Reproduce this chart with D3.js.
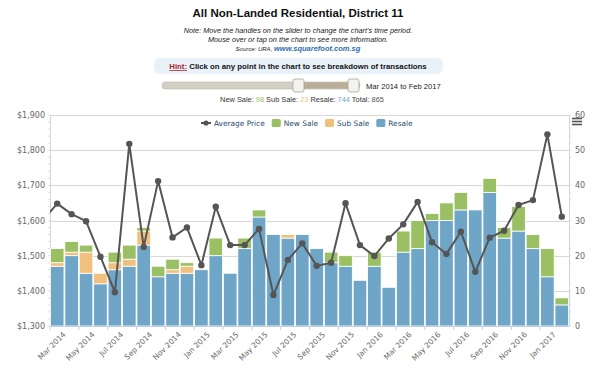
<!DOCTYPE html>
<html>
<head>
<meta charset="utf-8">
<script src="https://cdn.jsdelivr.net/npm/d3@7"></script>
<style>
  body { margin: 0; background: #fff; }
  svg { display: block; }
</style>
</head>
<body>
<div id="chart"></div>
<script>
// monthly transactions, Mar 2014 - Feb 2017
const months = ["Mar 2014", "Apr 2014", "May 2014", "Jun 2014", "Jul 2014", "Aug 2014",
  "Sep 2014", "Oct 2014", "Nov 2014", "Dec 2014", "Jan 2015", "Feb 2015",
  "Mar 2015", "Apr 2015", "May 2015", "Jun 2015", "Jul 2015", "Aug 2015",
  "Sep 2015", "Oct 2015", "Nov 2015", "Dec 2015", "Jan 2016", "Feb 2016",
  "Mar 2016", "Apr 2016", "May 2016", "Jun 2016", "Jul 2016", "Aug 2016",
  "Sep 2016", "Oct 2016", "Nov 2016", "Dec 2016", "Jan 2017", "Feb 2017"];
const resale = [17, 20, 15, 12, 16, 17, 23, 14, 15, 15, 16, 20, 15, 22, 31, 26, 25, 26,
  22, 18, 17, 13, 17, 11, 21, 22, 30, 30, 33, 33, 38, 25, 27, 22, 14, 6];
const subSale = [1, 1, 6, 3, 2, 2, 4, 0, 1, 2, 0, 0, 0, 0, 0, 0, 1, 0,
  0, 0, 0, 0, 0, 0, 0, 0, 0, 0, 0, 0, 0, 0, 0, 0, 0, 0];
const newSale = [4, 3, 2, 0, 3, 4, 1, 3, 3, 1, 0, 5, 0, 3, 2, 0, 0, 0,
  0, 3, 3, 0, 4, 0, 6, 8, 2, 5, 5, 0, 4, 3, 7, 4, 8, 2];
const avgPrice = [1648, 1618, 1598, 1497, 1396, 1818, 1525, 1712, 1552, 1580, 1473, 1639,
  1530, 1530, 1576, 1388, 1488, 1535, 1471, 1480, 1649, 1530, 1499, 1549,
  1589, 1653, 1538, 1505, 1568, 1454, 1551, 1571, 1644, 1658, 1845, 1611];
const priorPrice = 1600; // Feb 2014, just outside the selected range
const priceTicks = [1300, 1400, 1500, 1600, 1700, 1800, 1900];
const countTicks = [0, 10, 20, 30, 40, 50, 60];

const colors = { resale: "#6fa6c8", sub: "#f2c07e", new: "#9bc064", line: "#555555" };

const W = 600, H = 370;
const plot = { left: 50, right: 569, top: 115, bottom: 326 };

const svg = d3.select("#chart").append("svg")
  .attr("width", W).attr("height", H);

// ---- header ----
const sans = "'Liberation Sans', Arial, sans-serif";
svg.append("text").attr("x", 298).attr("y", 17)
  .attr("text-anchor", "middle").style("font", `bold 11.5px ${sans}`).attr("fill", "#111")
  .text("All Non-Landed Residential, District 11");

svg.append("text").attr("x", 298).attr("y", 33)
  .attr("text-anchor", "middle").style("font", `italic 7.3px ${sans}`).attr("fill", "#222")
  .text("Note: Move the handles on the slider to change the chart's time period.");
svg.append("text").attr("x", 298).attr("y", 42)
  .attr("text-anchor", "middle").style("font", `italic 7.3px ${sans}`).attr("fill", "#222")
  .text("Mouse over or tap on the chart to see more information.");

const src = svg.append("text").attr("x", 298).attr("y", 51)
  .attr("text-anchor", "middle").style("font", `italic 6px ${sans}`).attr("fill", "#222");
src.append("tspan").text("Source: URA, ");
src.append("tspan").style("font", `italic bold 7.5px ${sans}`).attr("fill", "#2f6fb3")
  .text("www.squarefoot.com.sg");

// hint box
svg.append("rect").attr("x", 154).attr("y", 58).attr("width", 289).attr("height", 16)
  .attr("rx", 6).attr("fill", "#e9f1f9");
const hint = svg.append("text").attr("x", 298).attr("y", 69)
  .attr("text-anchor", "middle").style("font", `bold 7.8px ${sans}`).attr("fill", "#111");
hint.append("tspan").attr("fill", "#b0212a").style("text-decoration", "underline").text("Hint:");
hint.append("tspan").text(" Click on any point in the chart to see breakdown of transactions");

// slider
const slider = svg.append("g");
slider.append("rect").attr("x", 162).attr("y", 82).attr("width", 198).attr("height", 7)
  .attr("rx", 3.5).attr("fill", "#d2cfc4").attr("stroke", "#b9b5a8").attr("stroke-width", 0.6);
slider.append("rect").attr("x", 299).attr("y", 82.3).attr("width", 54).attr("height", 6.4)
  .attr("fill", "#b9af98");
[293, 348].forEach(hx => {
  slider.append("rect").attr("x", hx).attr("y", 79).attr("width", 11).attr("height", 13)
    .attr("rx", 2).attr("fill", "#f3f2ec").attr("stroke", "#aaa79c").attr("stroke-width", 0.8);
});
svg.append("text").attr("x", 366).attr("y", 88.5)
  .style("font", `7.6px ${sans}`).attr("fill", "#222").text("Mar 2014 to Feb 2017");

// totals line
const totals = svg.append("text").attr("x", 302).attr("y", 101.5)
  .attr("text-anchor", "middle").style("font", `7.4px ${sans}`).attr("fill", "#333");
const sum = a => d3.sum(a);
totals.append("tspan").text("New Sale: ");
totals.append("tspan").attr("fill", colors.new).text(sum(newSale));
totals.append("tspan").text(" Sub Sale: ");
totals.append("tspan").attr("fill", colors.sub).text(sum(subSale));
totals.append("tspan").text(" Resale: ");
totals.append("tspan").attr("fill", colors.resale).text(sum(resale));
totals.append("tspan").text(" Total: ");
totals.append("tspan").attr("fill", "#555").text(sum(resale) + sum(subSale) + sum(newSale));

// ---- scales ----
const x = d3.scaleBand().domain(months).range([plot.left, plot.right])
  .paddingInner(0.06).paddingOuter(0.03);
const step = x.step();
const yCount = d3.scaleLinear().domain([0, 60]).range([plot.bottom, plot.top]);
const yPrice = d3.scaleLinear().domain([1300, 1900]).range([plot.bottom, plot.top]);

const axisFont = "'DejaVu Sans', Verdana, sans-serif";

// grid
svg.append("g").selectAll("line").data(priceTicks).join("line")
  .attr("x1", plot.left).attr("x2", plot.right)
  .attr("y1", d => Math.round(yPrice(d)) + 0.5).attr("y2", d => Math.round(yPrice(d)) + 0.5)
  .attr("stroke", "#d8d8d8").attr("stroke-width", 1);

// left axis
const leftAxis = svg.append("g").attr("transform", `translate(${plot.left},0)`)
  .call(d3.axisLeft(yPrice).tickValues(priceTicks).tickSize(0).tickPadding(5)
    .tickFormat(d => "$" + d3.format(",")(d)));
leftAxis.select(".domain").attr("stroke", "#c0d0e0").attr("stroke-width", 0.8);
leftAxis.selectAll("text").style("font", `8px ${axisFont}`).attr("fill", "#666");
leftAxis.append("g").selectAll("line").data(d3.range(1300, 1901, 20)).join("line")
  .attr("x1", 0).attr("x2", -2)
  .attr("y1", d => yPrice(d)).attr("y2", d => yPrice(d))
  .attr("stroke", "#c8d2dc").attr("stroke-width", 0.7);

// right axis
const rightAxis = svg.append("g").attr("transform", `translate(${plot.right},0)`)
  .call(d3.axisRight(yCount).tickValues(countTicks).tickSize(0).tickPadding(6));
rightAxis.select(".domain").attr("stroke", "#c0d0e0").attr("stroke-width", 0.8);
rightAxis.selectAll("text").style("font", `8px ${axisFont}`).attr("fill", "#666");
rightAxis.append("g").selectAll("line").data(d3.range(0, 61, 2)).join("line")
  .attr("x1", 0).attr("x2", 2)
  .attr("y1", d => yCount(d)).attr("y2", d => yCount(d))
  .attr("stroke", "#c8d2dc").attr("stroke-width", 0.7);

// ---- stacked bars ----
const rows = months.map((m, i) => ({ month: m, resale: resale[i], sub: subSale[i], new: newSale[i] }));
const stack = d3.stack().keys(["resale", "sub", "new"])(rows);

svg.append("g").selectAll("g").data(stack).join("g")
  .attr("fill", d => colors[d.key])
  .selectAll("rect").data(d => d.filter(s => s[1] > s[0])).join("rect")
  .attr("x", d => x(d.data.month))
  .attr("width", x.bandwidth())
  .attr("y", d => yCount(d[1]))
  .attr("height", d => yCount(d[0]) - yCount(d[1]))
  .attr("stroke", "#fff").attr("stroke-width", 0.8);

// x axis
const xAxis = svg.append("g").attr("transform", `translate(0,${plot.bottom})`);
xAxis.append("line").attr("x1", plot.left).attr("x2", plot.right)
  .attr("y1", 0.5).attr("y2", 0.5).attr("stroke", "#c0d0e0");
const labelled = months.filter((m, i) => i % 2 === 0);
xAxis.selectAll("line.tick").data(labelled).join("line").attr("class", "tick")
  .attr("x1", d => x(d) - step * 0.03).attr("x2", d => x(d) - step * 0.03)
  .attr("y1", 0).attr("y2", 4).attr("stroke", "#c0d0e0");
xAxis.selectAll("text").data(labelled).join("text")
  .attr("transform", d => `translate(${x(d) + x.bandwidth() / 2 + 9},9) rotate(-45)`)
  .attr("text-anchor", "end")
  .style("font", `7.5px ${axisFont}`).attr("fill", "#666")
  .text(d => d);

// ---- average price line ----
const clip = svg.append("clipPath").attr("id", "plotclip")
  .append("rect").attr("x", plot.left).attr("y", plot.top - 10)
  .attr("width", plot.right - plot.left).attr("height", plot.bottom - plot.top + 20);

const cx = i => x(months[0]) + x.bandwidth() / 2 + i * step;
const pts = [[cx(-1), yPrice(priorPrice)]].concat(avgPrice.map((p, i) => [cx(i), yPrice(p)]));
svg.append("path").attr("clip-path", "url(#plotclip)")
  .attr("d", d3.line()(pts))
  .attr("fill", "none").attr("stroke", colors.line).attr("stroke-width", 2)
  .attr("stroke-linejoin", "round");
svg.append("g").selectAll("circle").data(avgPrice).join("circle")
  .attr("cx", (d, i) => cx(i)).attr("cy", d => yPrice(d))
  .attr("r", 3.2).attr("fill", colors.line);

// ---- legend ----
const legend = svg.append("g").attr("transform", "translate(201,123)");
const items = [
  { name: "Average Price", type: "line", color: colors.line },
  { name: "New Sale", type: "box", color: colors.new },
  { name: "Sub Sale", type: "box", color: colors.sub },
  { name: "Resale", type: "box", color: colors.resale }
];
let lx = 0;
items.forEach(it => {
  const g = legend.append("g").attr("transform", `translate(${lx},0)`);
  let tx;
  if (it.type === "line") {
    g.append("line").attr("x1", 0).attr("x2", 10).attr("y1", 0).attr("y2", 0)
      .attr("stroke", it.color).attr("stroke-width", 2);
    g.append("circle").attr("cx", 5).attr("cy", 0).attr("r", 2.6).attr("fill", it.color);
    tx = 13;
  } else {
    g.append("rect").attr("x", 0).attr("y", -4).attr("width", 9).attr("height", 8)
      .attr("rx", 1.5).attr("fill", it.color);
    tx = 12;
  }
  const t = g.append("text").attr("x", tx).attr("y", 3)
    .style("font", `7.4px ${axisFont}`).attr("fill", "#274b6d").text(it.name);
  lx += tx + t.node().getComputedTextLength() + 7;
});

// menu icon
const menu = svg.append("g");
[118.5, 121.5, 124.5].forEach(my => {
  menu.append("line").attr("x1", 572).attr("x2", 582).attr("y1", my).attr("y2", my)
    .attr("stroke", "#555").attr("stroke-width", 1.6);
});
</script>
</body>
</html>
